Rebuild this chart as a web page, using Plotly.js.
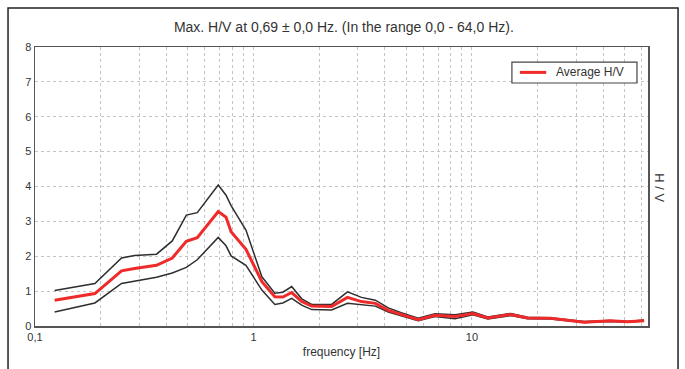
<!DOCTYPE html>
<html><head><meta charset="utf-8">
<script src="https://cdn.plot.ly/plotly-3.0.1.min.js"></script>
<style>html,body{margin:0;padding:0;background:#fff;}#chart{width:685px;height:369px;}</style>
</head><body><div id="chart"></div>
<script>
const freq = [0.123,0.188,0.249,0.2855,0.36,0.425,0.493,0.553,0.69,0.749,0.79,0.924,1.093,1.253,1.363,1.497,1.663,1.847,2.279,2.695,3.121,3.614,4.143,4.748,5.675,6.783,8.368,10.11,11.83,15.06,17.99,22.9,28.25,32.7,42.96,51.37,61.4];
const avgHV = [0.74,0.93,1.58,1.65,1.74,1.95,2.43,2.53,3.28,3.12,2.70,2.20,1.27,0.84,0.83,0.96,0.70,0.57,0.56,0.82,0.70,0.65,0.45,0.33,0.18,0.31,0.27,0.36,0.23,0.33,0.23,0.22,0.15,0.11,0.15,0.12,0.15];
const upperHV = [1.02,1.22,1.95,2.02,2.06,2.44,3.18,3.25,4.04,3.75,3.45,2.75,1.41,0.94,0.97,1.13,0.78,0.62,0.62,0.98,0.82,0.74,0.52,0.38,0.22,0.35,0.32,0.40,0.26,0.36,0.25,0.24,0.17,0.13,0.16,0.13,0.17];
const lowerHV = [0.40,0.66,1.22,1.28,1.40,1.52,1.68,1.90,2.54,2.30,2.01,1.74,1.03,0.62,0.66,0.79,0.60,0.47,0.46,0.65,0.62,0.57,0.40,0.29,0.15,0.27,0.21,0.32,0.20,0.30,0.21,0.20,0.13,0.10,0.13,0.11,0.14];
const xTickVals = [0.1,1,10];
const xTickText = ['0,1','1','10'];
const titleText = 'Max. H/V at 0,69 ± 0,0 Hz. (In the range 0,0 - 64,0 Hz).';
const legendLabel = 'Average H/V';

const F = 'Liberation Sans, Arial, sans-serif';
const traces = [
  {x:freq,y:upperHV,mode:'lines',line:{color:'#2e2e2e',width:1.5},showlegend:false,hoverinfo:'skip'},
  {x:freq,y:lowerHV,mode:'lines',line:{color:'#2e2e2e',width:1.5},showlegend:false,hoverinfo:'skip'},
  {x:freq,y:avgHV,mode:'lines',name:legendLabel,showlegend:false,line:{color:'#ee2a2a',width:3}}
];
const layout = {
  width:685,height:369,
  margin:{l:35,r:37,t:47,b:43},
  paper_bgcolor:'#ffffff',plot_bgcolor:'#ffffff',
  font:{family:F,size:11,color:'#333'},
  title:{text:titleText,font:{family:F,size:14,color:'#333'},x:0.502,xanchor:'center',y:0.927,yanchor:'middle'},
  xaxis:{type:'log',range:[-1,Math.log10(64)],tickvals:xTickVals,ticktext:xTickText,
    showline:true,linecolor:'#555',linewidth:1.5,mirror:true,ticks:'',
    showgrid:true,gridcolor:'#c4c4c4',griddash:'dot',gridwidth:1,
    minor:{showgrid:true,gridcolor:'#c4c4c4',griddash:'dot',gridwidth:1,dtick:'D1'},
    tickfont:{family:F,size:11,color:'#333'},
    title:{text:'frequency [Hz]',font:{family:F,size:12,color:'#333'},standoff:6},
    zeroline:false},
  yaxis:{range:[0,8],dtick:1,tick0:0,showline:true,linecolor:'#555',linewidth:1.5,mirror:true,ticks:'',
    showgrid:true,gridcolor:'#c4c4c4',griddash:'dot',gridwidth:1,zeroline:false,
    tickfont:{family:F,size:11,color:'#333'}},
  showlegend:false,
  annotations:[
    {text:'H / V',xref:'paper',yref:'paper',x:1.033,y:0.495,showarrow:false,textangle:90,
      font:{family:F,size:13,color:'#333'}},
    {text:legendLabel,xref:'paper',yref:'paper',x:0.846,y:0.909,xanchor:'left',yanchor:'middle',showarrow:false,
      font:{family:F,size:12,color:'#333'}}
  ],
  shapes:[
    {type:'rect',xref:'paper',yref:'paper',x0:-0.044,x1:1.049,y0:-0.17,y1:1.14,line:{color:'#222',width:1.5},fillcolor:'rgba(0,0,0,0)',layer:'below'},
    {type:'rect',xref:'paper',yref:'paper',x0:0.778,x1:0.982,y0:0.871,y1:0.946,line:{color:'#444',width:1.2},fillcolor:'#ffffff',layer:'above'},
    {type:'line',xref:'paper',yref:'paper',x0:0.791,x1:0.834,y0:0.909,y1:0.909,line:{color:'#ee2a2a',width:3},layer:'above'}
  ]
};
Plotly.newPlot('chart',traces,layout,{displayModeBar:false,staticPlot:true});
</script></body></html>
